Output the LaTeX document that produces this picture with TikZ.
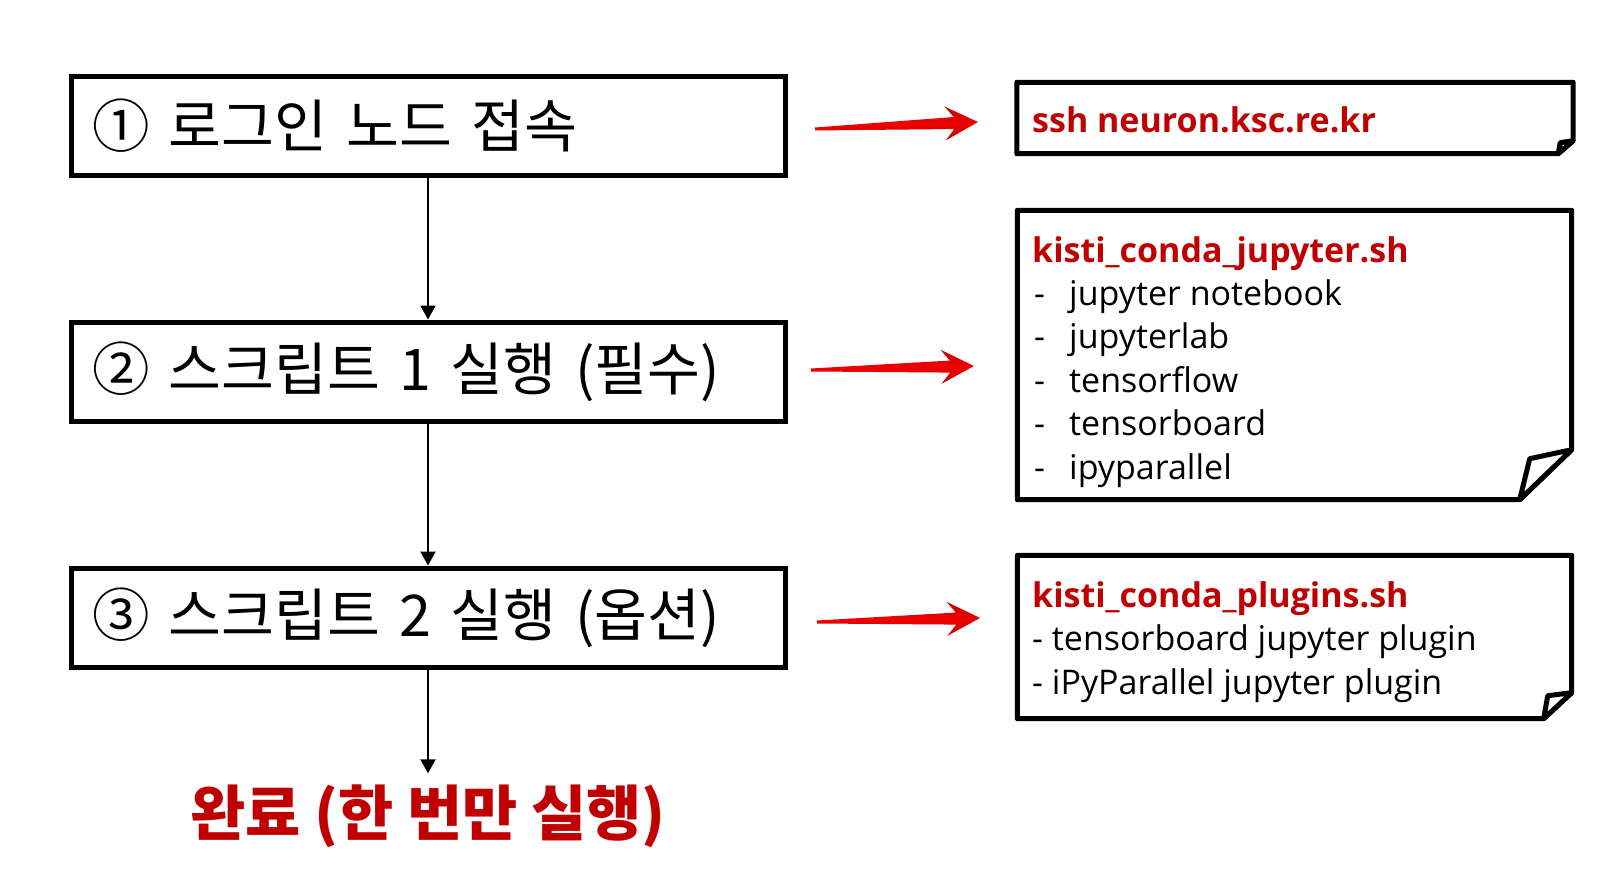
\documentclass[tikz,border=0pt]{standalone}
\usepackage{fontspec}
\setmainfont{Open Sans}
\newfontfamily\kr{Noto Sans CJK KR}
\usetikzlibrary{arrows.meta,calc}
\definecolor{textred}{RGB}{192,0,0}
\definecolor{arrred}{RGB}{240,0,0}
\definecolor{arrdark}{RGB}{190,0,0}
\newcommand\taperarrow[2]{%
  \coordinate (tpA) at ($(#2)!24pt!(#1)$);
  \coordinate (tpB) at ($(#2)!33pt!(#1)$);
  \shade[top color=arrdark, bottom color=arrdark, middle color=arrred]
    ($(#1)!1.5pt!90:(#2)$) -- ($(tpA)!6pt!90:(#2)$) -- ($(tpB)!17pt!90:(#2)$) -- (#2)
    -- ($(tpB)!17pt!-90:(#2)$) -- ($(tpA)!6pt!-90:(#2)$) -- ($(#1)!1.5pt!-90:(#2)$) -- cycle;
}
\begin{document}
\begin{tikzpicture}[x=1pt,y=-1pt,
  stepbox/.style={draw, line width=5pt, minimum width=714pt, minimum height=99pt,
    inner sep=0pt, text width=672pt, align=left,
    font=\kr\fontsize{57.5}{62}\selectfont},
  flow/.style={line width=2pt, -{Triangle[width=15pt,length=14pt]}},
  notebody/.style={draw=none, inner sep=0pt},
  noteline/.style={line width=5pt, line join=round},
  notetext/.style={anchor=base west, inner sep=0pt, align=left,
    font=\fontsize{34}{43.4}\selectfont}]
\useasboundingbox (0,0) rectangle (1622,872);

% left flow boxes
\node[stepbox] (b1) at (428,126) {① 로그인 노드 접속};
\node[stepbox] (b2) at (428,371.5) {② 스크립트 1 실행 (필수)};
\node[stepbox] (b3) at (428,617.5) {③ 스크립트 2 실행 (옵션)};
\node[inner sep=0pt, text=textred, font=\kr\bfseries\fontsize{60}{64}\selectfont]
  (done) at (428,816) {완료 (한 번만 실행)};

\draw[flow] (b1.south) -- (b2.north);
\draw[flow] (b2.south) -- (b3.north);
\draw[flow, shorten >=11pt] (b3.south) -- (done.north);

% right note boxes
\node[notebody, minimum width=556pt, minimum height=71pt] (nA) at (1295,118) {};
\node[notebody, minimum width=554pt, minimum height=289pt] (nB) at (1294.5,355) {};
\node[notebody, minimum width=554pt, minimum height=163pt] (nC) at (1294.5,637) {};

\draw[noteline] (nA.north west) -- (nA.north east) -- ($(nA.south east)+(0,-13)$)
  -- ($(nA.south east)+(-15,0)$) -- (nA.south west) -- cycle;
\draw[noteline, fill=white] ($(nA.south east)+(-15,0)$) -- ($(nA.south east)+(-13,-11)$)
  -- ($(nA.south east)+(0,-13)$) -- cycle;

\draw[noteline] (nB.north west) -- (nB.north east) -- ($(nB.south east)+(0,-50)$)
  -- ($(nB.south east)+(-52,0)$) -- (nB.south west) -- cycle;
\draw[noteline, fill=white] ($(nB.south east)+(-52,0)$) -- ($(nB.south east)+(-42,-41)$)
  -- ($(nB.south east)+(0,-50)$) -- cycle;

\draw[noteline] (nC.north west) -- (nC.north east) -- ($(nC.south east)+(0,-26)$)
  -- ($(nC.south east)+(-28,0)$) -- (nC.south west) -- cycle;
\draw[noteline, fill=white] ($(nC.south east)+(-28,0)$) -- ($(nC.south east)+(-24,-23)$)
  -- ($(nC.south east)+(0,-26)$) -- cycle;

% note texts (base anchor = baseline of last line)
\node[notetext, text=textred] (tA) at (1032,132) {\bfseries ssh neuron.ksc.re.kr};
\node[notetext] (tB) at (1032,479) {{\color{textred}\bfseries kisti\_conda\_jupyter.sh}\\
  \makebox[37pt][l]{\hspace{2pt}-}jupyter notebook\\
  \makebox[37pt][l]{\hspace{2pt}-}jupyterlab\\
  \makebox[37pt][l]{\hspace{2pt}-}tensorflow\\
  \makebox[37pt][l]{\hspace{2pt}-}tensorboard\\
  \makebox[37pt][l]{\hspace{2pt}-}ipyparallel};
\node[notetext] (tC) at (1032,694) {{\color{textred}\bfseries kisti\_conda\_plugins.sh}\\
  - tensorboard jupyter plugin\\
  - iPyParallel jupyter plugin};

% red arrows
\coordinate (rA1) at (815,129);
\coordinate (rA2) at (978,122);
\coordinate (rB1) at (811,370);
\coordinate (rB2) at (974,366);
\coordinate (rC1) at (817,622);
\coordinate (rC2) at (980,618);
\taperarrow{rA1}{rA2}
\taperarrow{rB1}{rB2}
\taperarrow{rC1}{rC2}
\end{tikzpicture}
\end{document}
